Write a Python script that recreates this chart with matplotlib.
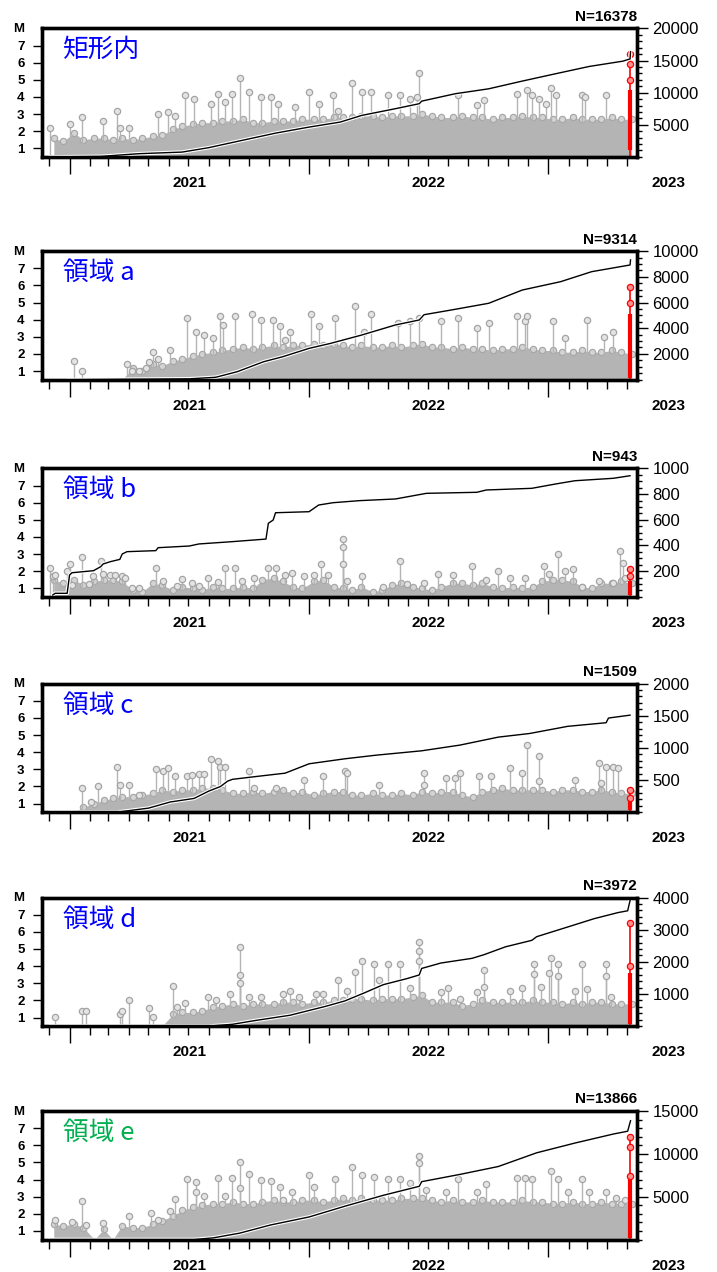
import numpy as np
import pandas as pd
import matplotlib
matplotlib.use('Agg')
import matplotlib.pyplot as plt
import matplotlib.dates as mdates
import matplotlib.patheffects as pe
from matplotlib.ticker import MultipleLocator, FixedLocator

plt.rcParams['font.family'] = ['Liberation Sans', 'Noto Sans CJK JP']

# time is kept as decimal year, converted to dates for plotting
def yr2date(v):
    v = np.asarray(v, dtype=float)
    return pd.Timestamp('2021-01-01') + pd.to_timedelta((v - 2021.0) * 365.25, unit='D')

# half-month grid (centres) used for the dense background of small events
band_dates = pd.date_range('2020-12-01', '2023-05-01', freq='SMS') + pd.Timedelta(days=7)
red_yr = 2023.34

# ---------------- 矩形内 ----------------
rect_peak_yr = [2020.92, 2021.00, 2021.05, 2021.14, 2021.20, 2021.21, 2021.25, 2021.37, 2021.41, 2021.44,
                2021.48, 2021.52, 2021.59, 2021.62, 2021.65, 2021.68, 2021.71, 2021.75, 2021.80, 2021.84,
                2021.87, 2021.94, 2022.00, 2022.04, 2022.10, 2022.12, 2022.18, 2022.22, 2022.26, 2022.33,
                2022.38, 2022.42, 2022.45, 2022.46, 2022.62, 2022.70, 2022.73, 2022.87, 2022.91, 2022.93,
                2022.96, 2022.99, 2023.01, 2023.03, 2023.14, 2023.15, 2023.24]
rect_peak_m = [2.2, 2.4, 2.8, 2.6, 3.2, 2.2, 2.2, 3.0, 3.1, 2.9,
               4.1, 3.9, 3.6, 4.2, 3.7, 4.2, 5.1, 4.3, 4.0, 4.0,
               3.6, 3.4, 4.3, 3.6, 4.1, 3.2, 4.8, 4.3, 4.3, 4.1,
               4.1, 3.9, 4.0, 5.4, 4.1, 3.55, 3.8, 4.2, 4.4, 4.1,
               3.9, 3.6, 4.5, 4.1, 4.1, 4.0, 4.1]
rect_band = [1.6, 1.4, 1.9, 1.5, 1.6, 1.6, 1.5, 1.6, 1.5, 1.6,
             1.7, 1.8, 2.1, 2.3, 2.4, 2.5, 2.5, 2.6, 2.6, 2.7,
             2.5, 2.5, 2.6, 2.6, 2.6, 2.7, 2.7, 2.7, 2.8, 2.8,
             2.8, 2.9, 2.9, 2.8, 2.9, 2.9, 2.9, 3.0, 2.9, 2.8,
             2.8, 2.9, 2.8, 2.8, 2.7, 2.8, 2.8, 2.9, 2.8, 2.8,
             2.7, 2.7, 2.8, 2.7, 2.7, 2.7, 2.8, 2.7, 2.7]
rect_cum_yr = [2020.92, 2021.13, 2021.29, 2021.47, 2021.58, 2021.72, 2021.86, 2022.00, 2022.13, 2022.22,
               2022.36, 2022.46, 2022.47, 2022.61, 2022.75, 2022.89, 2023.03, 2023.17, 2023.31, 2023.34, 2023.342]
rect_cum_n = [0, 80, 500, 750, 1430, 2570, 3700, 4640, 5420, 6460,
              7500, 8280, 8680, 9830, 10600, 11800, 12950, 14080, 14900, 15250, 16378]
rect_red_m = [6.5, 5.9, 5.0]
rect_red_band = [0.9, 4.4]

# ---------------- 領域 a ----------------
a_peak_yr = [2021.02, 2021.05, 2021.24, 2021.26, 2021.29, 2021.32, 2021.33, 2021.35, 2021.37, 2021.42,
             2021.49, 2021.53, 2021.56, 2021.60, 2021.63, 2021.64, 2021.69, 2021.76, 2021.80, 2021.85,
             2021.88, 2021.90, 2021.92, 2022.01, 2022.04, 2022.11, 2022.19, 2022.23, 2022.26, 2022.37,
             2022.42, 2022.46, 2022.55, 2022.62, 2022.70, 2022.75, 2022.87, 2022.90, 2022.91, 2023.02,
             2023.07, 2023.16, 2023.23, 2023.27]
a_peak_m = [1.6, 1.0, 1.4, 1.0, 1.0, 1.2, 1.5, 2.1, 1.7, 2.2,
            4.1, 3.3, 3.1, 2.9, 4.2, 3.7, 4.2, 4.3, 4.0, 4.0,
            3.6, 2.8, 3.3, 4.3, 3.6, 4.1, 4.8, 3.3, 4.3, 3.8,
            3.9, 4.1, 3.9, 4.1, 3.5, 3.8, 4.2, 3.9, 4.2, 3.9,
            2.9, 4.0, 3.0, 3.3]
a_band = [0, 0, 0, 0, 0, 0, 0, 0, 1.2, 1.0,
          1.4, 1.3, 1.6, 1.7, 1.9, 2.0, 2.1, 2.2, 2.3, 2.4,
          2.3, 2.4, 2.5, 2.4, 2.5, 2.5, 2.6, 2.5, 2.6, 2.5,
          2.4, 2.5, 2.4, 2.4, 2.5, 2.4, 2.5, 2.6, 2.4, 2.4,
          2.3, 2.4, 2.3, 2.3, 2.2, 2.3, 2.3, 2.4, 2.3, 2.2,
          2.2, 2.1, 2.1, 2.2, 2.1, 2.1, 2.2, 2.1, 2.0]
a_cum_yr = [2021.00, 2021.50, 2021.61, 2021.70, 2021.81, 2021.89, 2022.00, 2022.09, 2022.22, 2022.36,
            2022.46, 2022.48, 2022.61, 2022.75, 2022.89, 2023.05, 2023.18, 2023.34, 2023.342]
a_cum_n = [0, 60, 180, 615, 1390, 1780, 2430, 2820, 3470, 4250,
           4640, 5050, 5470, 5940, 6970, 7620, 8400, 8920, 9314]
a_red_m = [5.9, 5.0]
a_red_band = [0.6, 4.3]

# ---------------- 領域 b ----------------
b_peak_yr = [2020.92, 2020.93, 2020.94, 2020.99, 2021.00, 2021.01, 2021.05, 2021.08, 2021.10, 2021.13,
             2021.14, 2021.17, 2021.19, 2021.22, 2021.23, 2021.26, 2021.29, 2021.36, 2021.39, 2021.45,
             2021.47, 2021.51, 2021.54, 2021.58, 2021.62, 2021.65, 2021.69, 2021.72, 2021.77, 2021.83,
             2021.86, 2021.90, 2021.93, 2021.98, 2022.02, 2022.05, 2022.08, 2022.14, 2022.14, 2022.14,
             2022.16, 2022.22, 2022.31, 2022.38, 2022.41, 2022.48, 2022.54, 2022.60, 2022.68, 2022.74,
             2022.79, 2022.84, 2022.90, 2022.98, 2023.00, 2023.04, 2023.07, 2023.10, 2023.14, 2023.21,
             2023.27, 2023.30, 2023.31, 2023.32]
b_peak_m = [2.2, 1.7, 1.8, 2.0, 2.4, 1.2, 2.8, 1.25, 1.7, 2.6,
            1.85, 1.8, 1.8, 1.7, 1.6, 1.0, 1.0, 2.2, 1.4, 1.15,
            1.55, 1.3, 1.15, 1.6, 1.35, 2.2, 2.2, 1.4, 1.6, 2.2,
            2.2, 1.8, 1.9, 1.7, 1.8, 2.4, 1.8, 3.9, 3.4, 2.4,
            1.4, 1.7, 1.1, 2.6, 1.25, 1.3, 1.85, 1.8, 2.3, 1.5,
            2.0, 1.6, 1.6, 2.3, 1.85, 3.0, 2.0, 2.1, 1.05, 1.4,
            1.3, 3.2, 2.5, 1.6]
b_band = [1.5, 1.3, 1.5, 1.2, 1.4, 1.5, 1.5, 1.4, 0.9, 0.8,
          1.3, 1.2, 0.9, 1.1, 1.0, 0.9, 1.1, 1.0, 1.0, 1.1,
          1.0, 1.5, 1.6, 1.4, 1.1, 1.0, 1.4, 1.5, 1.1, 1.0,
          0.9, 1.1, 0.8, 0.9, 1.2, 1.3, 1.1, 1.0, 0.9, 1.1,
          1.3, 1.3, 1.2, 1.3, 1.1, 1.0, 1.1, 1.0, 1.1, 1.4,
          1.5, 1.5, 1.4, 1.1, 1.0, 1.3, 1.3, 1.4, 1.3]
b_cum_yr = [2020.93, 2020.94, 2020.99, 2021.00, 2021.01, 2021.10, 2021.13, 2021.14, 2021.17, 2021.21,
            2021.22, 2021.24, 2021.36, 2021.37, 2021.50, 2021.54, 2021.68, 2021.82, 2021.83, 2021.85,
            2021.86, 2022.00, 2022.04, 2022.10, 2022.21, 2022.36, 2022.49, 2022.70, 2022.74, 2022.93,
            2023.03, 2023.11, 2023.27, 2023.34]
b_cum_n = [15, 28, 28, 170, 188, 204, 235, 256, 274, 292,
           334, 352, 360, 383, 396, 412, 430, 450, 573, 598,
           655, 663, 715, 733, 749, 762, 806, 814, 832, 845,
           879, 904, 923, 943]
b_red_m = [2.1, 1.7]
b_red_band = [0.6, 1.4]

# ---------------- 領域 c ----------------
c_peak_yr = [2021.05, 2021.09, 2021.12, 2021.20, 2021.21, 2021.25, 2021.29, 2021.36, 2021.39, 2021.41,
             2021.44, 2021.49, 2021.51, 2021.54, 2021.56, 2021.59, 2021.62, 2021.63, 2021.65, 2021.75,
             2021.77, 2021.86, 2021.98, 2022.06, 2022.15, 2022.16, 2022.29, 2022.48, 2022.48, 2022.57,
             2022.61, 2022.63, 2022.71, 2022.76, 2022.84, 2022.89, 2022.91, 2022.96, 2022.96, 2023.11,
             2023.21, 2023.22, 2023.24, 2023.27, 2023.29]
c_peak_m = [1.9, 1.1, 2.0, 3.15, 2.1, 2.1, 1.5, 3.0, 2.9, 3.1,
            2.6, 2.6, 2.65, 2.7, 2.7, 3.6, 3.5, 3.15, 3.15, 2.9,
            1.9, 1.9, 2.4, 2.6, 2.9, 2.8, 2.1, 2.8, 2.1, 2.5,
            2.5, 2.8, 2.6, 2.6, 3.1, 2.8, 4.4, 3.8, 2.3, 2.35,
            3.35, 2.2, 3.15, 3.15, 3.1]
c_band = [0, 0, 0, 0.8, 1.0, 1.2, 1.3, 1.4, 1.4, 1.5,
          1.6, 1.8, 1.7, 1.8, 1.8, 1.9, 1.9, 1.8, 1.6, 1.6,
          1.7, 1.6, 1.7, 1.8, 1.6, 1.7, 1.5, 1.6, 1.7, 1.7,
          1.5, 1.5, 1.6, 1.5, 1.5, 1.6, 1.5, 1.7, 1.6, 1.7,
          1.7, 1.5, 1.4, 1.7, 1.8, 1.9, 1.8, 1.8, 1.8, 1.8,
          1.7, 1.8, 1.8, 1.7, 1.7, 1.8, 1.7, 1.6, 1.6]
c_cum_yr = [2020.92, 2021.20, 2021.33, 2021.42, 2021.52, 2021.58, 2021.63, 2021.66, 2021.68, 2021.77,
            2021.90, 2022.00, 2022.15, 2022.28, 2022.47, 2022.63, 2022.79, 2022.92, 2023.08, 2023.24,
            2023.25, 2023.34]
c_cum_n = [0, 0, 62, 157, 213, 325, 398, 482, 510, 550,
           606, 752, 830, 886, 954, 1043, 1167, 1223, 1335, 1391,
           1464, 1509]
c_red_m = [1.8, 1.3]
c_red_band = [0.6, 1.3]

# ---------------- 領域 d ----------------
d_peak_yr = [2020.94, 2021.05, 2021.07, 2021.21, 2021.22, 2021.25, 2021.33, 2021.35, 2021.43, 2021.45,
             2021.48, 2021.58, 2021.61, 2021.67, 2021.71, 2021.71, 2021.71, 2021.75, 2021.80, 2021.89,
             2021.92, 2021.96, 2022.03, 2022.06, 2022.12, 2022.16, 2022.19, 2022.22, 2022.27, 2022.29,
             2022.33, 2022.38, 2022.42, 2022.46, 2022.46, 2022.46, 2022.55, 2022.58, 2022.63, 2022.70,
             2022.73, 2022.73, 2022.84, 2022.89, 2022.94, 2022.94, 2022.97, 2023.00, 2023.01, 2023.04,
             2023.04, 2023.11, 2023.14, 2023.16, 2023.24, 2023.24, 2023.26]
d_peak_m = [1.05, 1.4, 1.4, 1.2, 1.4, 2.0, 1.55, 1.05, 2.85, 1.6,
            1.85, 2.2, 2.0, 2.4, 5.1, 3.5, 3.0, 2.2, 2.2, 2.35,
            2.55, 2.2, 2.35, 2.35, 3.2, 2.55, 3.65, 4.3, 4.15, 3.2,
            4.1, 4.1, 2.7, 5.4, 4.9, 4.3, 2.5, 2.75, 2.1, 2.5,
            3.75, 2.8, 2.55, 2.75, 4.1, 3.55, 2.8, 3.6, 4.45, 4.1,
            3.45, 2.55, 4.1, 2.65, 4.1, 3.45, 2.2]
d_band = [0, 0, 0, 0, 0, 0, 0, 0, 0, 0,
          0, 0, 1.2, 1.3, 1.3, 1.4, 1.6, 1.7, 1.8, 1.7,
          1.8, 1.8, 1.8, 1.9, 1.9, 1.8, 1.9, 1.9, 2.0, 2.0,
          2.1, 2.1, 2.0, 2.1, 2.1, 2.1, 2.2, 2.3, 1.9, 1.9,
          1.9, 1.7, 1.8, 2.0, 1.9, 1.9, 1.9, 1.9, 2.0, 1.9,
          1.9, 1.8, 1.9, 1.8, 1.9, 1.9, 1.8, 1.8, 1.8]
d_cum_yr = [2020.92, 2021.58, 2021.68, 2021.77, 2021.92, 2022.07, 2022.15, 2022.23, 2022.31, 2022.41,
            2022.46, 2022.47, 2022.55, 2022.68, 2022.73, 2022.82, 2022.93, 2022.95, 2023.08, 2023.19,
            2023.29, 2023.33, 2023.342]
d_cum_n = [0, 0, 56, 168, 337, 617, 785, 1032, 1290, 1481,
           1593, 1795, 1963, 2109, 2222, 2468, 2670, 2783, 3086, 3344,
           3534, 3590, 3972]
d_red_m = [6.5, 4.0]
d_red_band = [0.6, 3.6]

# ---------------- 領域 e ----------------
e_peak_yr = [2020.94, 2021.01, 2021.05, 2021.07, 2021.14, 2021.25, 2021.34, 2021.37, 2021.42, 2021.44,
             2021.49, 2021.53, 2021.53, 2021.56, 2021.62, 2021.65, 2021.68, 2021.71, 2021.71, 2021.75,
             2021.80, 2021.84, 2021.88, 2021.89, 2021.93, 2022.00, 2022.02, 2022.11, 2022.18, 2022.22,
             2022.27, 2022.33, 2022.38, 2022.42, 2022.46, 2022.46, 2022.49, 2022.57, 2022.62, 2022.70,
             2022.74, 2022.87, 2022.90, 2022.93, 2023.01, 2023.04, 2023.08, 2023.14, 2023.17, 2023.24,
             2023.28, 2023.32]
e_peak_m = [1.65, 1.55, 2.75, 1.35, 1.45, 1.9, 2.05, 1.65, 2.15, 2.85,
            4.05, 3.85, 3.3, 3.05, 4.1, 3.05, 4.1, 5.05, 3.5, 4.3,
            3.95, 3.9, 3.55, 2.8, 3.3, 4.25, 3.55, 4.05, 4.75, 4.25,
            4.15, 4.05, 4.05, 3.8, 5.35, 4.95, 3.4, 3.3, 4.05, 3.3,
            3.75, 4.1, 4.1, 4.05, 4.5, 4.05, 3.3, 4.05, 3.3, 3.3,
            2.9, 2.8]
e_band = [1.4, 1.3, 1.4, 1.2, 0, 1.1, 0, 1.3, 1.2, 1.2,
          1.4, 1.6, 1.9, 2.2, 2.4, 2.5, 2.6, 2.6, 2.7, 2.6,
          2.6, 2.7, 2.8, 2.7, 2.7, 2.8, 2.8, 2.7, 2.8, 2.9,
          2.8, 2.9, 2.8, 2.8, 2.8, 2.9, 2.9, 2.9, 2.8, 2.7,
          2.8, 2.7, 2.7, 2.8, 2.7, 2.7, 2.7, 2.8, 2.7, 2.7,
          2.6, 2.6, 2.7, 2.6, 2.6, 2.7, 2.6, 2.6, 2.6]
e_cum_yr = [2020.92, 2021.52, 2021.60, 2021.71, 2021.84, 2022.00, 2022.15, 2022.31, 2022.46, 2022.47,
            2022.63, 2022.79, 2022.95, 2023.11, 2023.27, 2023.33, 2023.342]
e_cum_n = [0, 0, 190, 740, 1700, 2630, 3890, 5160, 6210, 6750,
           7600, 8520, 10120, 11260, 12310, 12640, 13866]
e_red_m = [6.5, 5.9, 4.2]
e_red_band = [0.6, 4.2]

panels = [
    ('矩形内', 'blue', rect_peak_yr, rect_peak_m, rect_band, rect_cum_yr, rect_cum_n, rect_red_m, rect_red_band, 20000, 5000, 1000, 28.4),
    ('領域 a', 'blue', a_peak_yr, a_peak_m, a_band, a_cum_yr, a_cum_n, a_red_m, a_red_band, 10000, 2000, 500, 251.1),
    ('領域 b', 'blue', b_peak_yr, b_peak_m, b_band, b_cum_yr, b_cum_n, b_red_m, b_red_band, 1000, 200, 50, 468.4),
    ('領域 c', 'blue', c_peak_yr, c_peak_m, c_band, c_cum_yr, c_cum_n, c_red_m, c_red_band, 2000, 500, 100, 683.6),
    ('領域 d', 'blue', d_peak_yr, d_peak_m, d_band, d_cum_yr, d_cum_n, d_red_m, d_red_band, 4000, 1000, 200, 897.6),
    ('領域 e', '#00b050', e_peak_yr, e_peak_m, e_band, e_cum_yr, e_cum_n, e_red_m, e_red_band, 15000, 5000, 1000, 1111),
]

W, H = 717, 1272
fig = plt.figure(figsize=(W / 100, H / 100), dpi=100)

gray = '#b4b4b4'
x0, x1 = yr2date(2020.885), yr2date(2023.369)

for label, lcolor, pk_yr, pk_m, band, cum_yr, cum_n, red_m, red_band, nmax, nmaj, nmin, top in panels:
    ax = fig.add_axes([42 / W, 1 - (top + 128.5) / H, 595 / W, 128.5 / H])
    ax.set_xlim(x0, x1)
    ax.set_ylim(0.5, 8)

    # dense background of small events
    band = np.array(band, dtype=float)
    by = np.where(band > 0.5, band, 0.5)
    ax.fill_between(band_dates, 0.5, by, color=gray, lw=0)
    keep = band > 0.5
    ax.plot(band_dates[keep], band[keep], 'o', ms=4.5, mfc='#d4d4d4', mec='#a8a8a8', mew=0.9)

    # larger events
    pk_d = yr2date(pk_yr)
    ax.vlines(pk_d, 0.5, pk_m, color=gray, lw=1.0)
    ax.plot(pk_d, pk_m, 'o', ms=4.5, mfc='#e4e4e4', mec='#a4a4a4', mew=0.9)

    # latest events in red
    rd = yr2date([red_yr])[0]
    ax.vlines([rd], 0.5, max(red_m), color='red', lw=1.2, zorder=4)
    ax.vlines([rd], red_band[0], red_band[1], color='red', lw=3, zorder=4)
    ax.plot([rd] * len(red_m), red_m, 'o', ms=4.5, mfc='#ff9090', mec='red', mew=0.9, zorder=5)

    # axes styling
    for s in ax.spines.values():
        s.set_linewidth(2.4)
    ax.set_yticks(range(1, 8))
    ax.tick_params(axis='y', direction='out', length=6.5, width=1, pad=6, labelsize=9.5)
    for t in ax.get_yticklabels():
        t.set_fontweight('bold')
    ax.text(-0.04, 0.995, 'M', transform=ax.transAxes, ha='center', va='center', fontsize=9.5, fontweight='bold')

    ax.xaxis.set_major_locator(mdates.YearLocator())
    ax.xaxis.set_minor_locator(mdates.MonthLocator())
    ax.xaxis.set_major_formatter(plt.NullFormatter())
    ax.tick_params(axis='x', which='major', direction='out', length=12, width=1)
    ax.tick_params(axis='x', which='minor', direction='out', length=6.5, width=1)
    for yr in [2021, 2022, 2023]:
        ax.text(yr2date(yr + 0.5), -0.205, str(yr), transform=ax.get_xaxis_transform(),
                ha='center', va='center', fontsize=11, fontweight='bold', clip_on=False)

    ax.text(0.035, 0.83, label, transform=ax.transAxes, color=lcolor, fontsize=18.5,
            family=['Noto Sans CJK JP'], va='center', ha='left')

    # cumulative number
    ax2 = ax.twinx()
    ax2.set_ylim(0, nmax)
    ax2.plot(yr2date(cum_yr), cum_n, color='black', lw=1.0,
             path_effects=[pe.Stroke(linewidth=2.6, foreground='white'), pe.Normal()])
    ax2.yaxis.set_major_locator(FixedLocator(np.arange(nmaj, nmax + 1, nmaj)))
    ax2.yaxis.set_minor_locator(MultipleLocator(nmin))
    ax2.tick_params(axis='y', which='major', direction='out', length=8, width=1, pad=3, labelsize=12)
    ax2.tick_params(axis='y', which='minor', direction='out', length=3.5, width=1)
    for s in ax2.spines.values():
        s.set_linewidth(2.4)
    ax2.text(1.0, 1.09, 'N=%d' % cum_n[-1], transform=ax2.transAxes, ha='right', va='center',
             fontsize=11, fontweight='bold')

fig.savefig('out.png', dpi=100)
